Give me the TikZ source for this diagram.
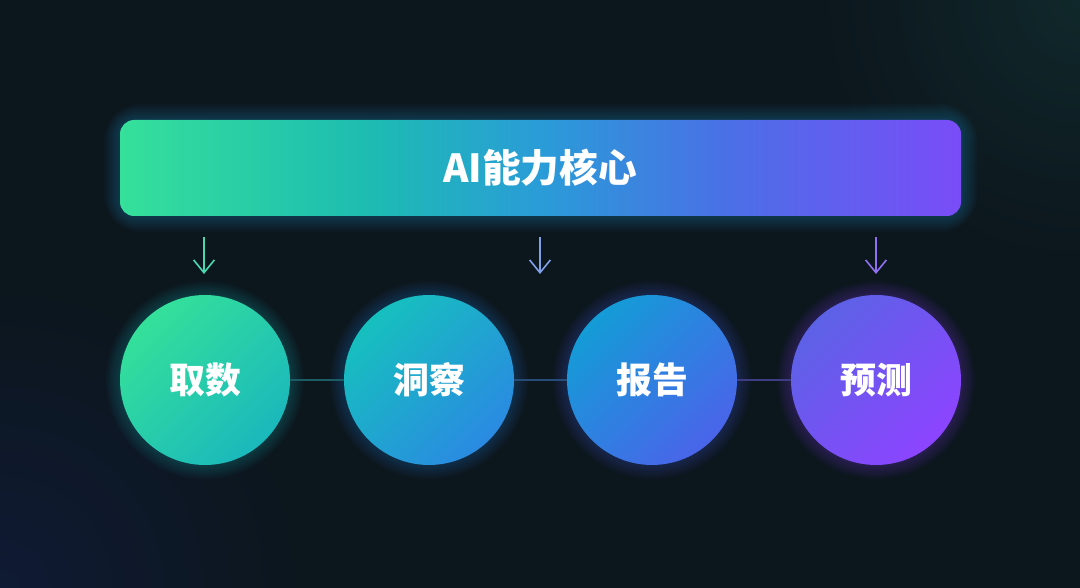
\documentclass[tikz,border=0pt]{standalone}
\usepackage{fontspec}
\newfontfamily\cjk{Noto Sans CJK SC}
\usetikzlibrary{arrows.meta,calc}
\definecolor{bg}{HTML}{0C161D}
\definecolor{bgtr}{HTML}{10282B}
\definecolor{bgbl}{HTML}{0F1A34}
\definecolor{gA}{HTML}{35E09A}
\definecolor{gB}{HTML}{1DBBB2}
\definecolor{gC}{HTML}{2A9CD8}
\definecolor{gD}{HTML}{4A70E6}
\definecolor{gE}{HTML}{7A4CF8}
\definecolor{aone}{HTML}{4AD8B0}
\definecolor{atwo}{HTML}{80A0E8}
\definecolor{athree}{HTML}{9070F0}
\definecolor{lone}{HTML}{1C5C64}
\definecolor{ltwo}{HTML}{284C7A}
\definecolor{lthree}{HTML}{3E3C84}
\definecolor{cAa}{HTML}{34E09A}\definecolor{cAb}{HTML}{1AB8BC}
\definecolor{cBa}{HTML}{16C0BE}\definecolor{cBb}{HTML}{2A8AE2}
\definecolor{cCa}{HTML}{149CD6}\definecolor{cCb}{HTML}{4A64EA}
\definecolor{cDa}{HTML}{5C62E6}\definecolor{cDb}{HTML}{8C44FF}
\pgfdeclarehorizontalshading{bannershade}{100bp}{
  color(0bp)=(gA); color(25bp)=(gA); color(40bp)=(gB); color(50bp)=(gC); color(61bp)=(gD); color(75bp)=(gE); color(100bp)=(gE)}
\tikzset{
  stage/.style={circle, minimum size=170*0.25mm, inner sep=0pt, text=white,
    font=\cjk\bfseries\fontsize{25.5}{30}\selectfont},
  glow/.style={fill=#1, fill opacity=0.035},
  feed/.style={-{Straight Barb[length=3.2mm,width=5.2mm]}, line width=0.4mm},
  link/.style={line width=0.3mm}
}
\begin{document}
\begin{tikzpicture}[x=0.25mm,y=0.25mm]
\useasboundingbox (0,0) rectangle (1080,-588);
% background
\fill[bg] (0,0) rectangle (1080,-588);
\begin{scope}
\clip (0,0) rectangle (1080,-588);
\shade[inner color=bgtr, outer color=bg] (1080,0) circle (260);
\shade[inner color=bgbl, outer color=bg] (0,-588) circle (300);
\end{scope}
% banner glow
\foreach \g in {2,4,6,8,10,12,14,16}{
  \fill[glow=gC, rounded corners=10+\g] (120-\g,-120+\g) rectangle (961+\g,-216-\g);
}
\shade[shading=bannershade, rounded corners=10] (120,-120) rectangle (961,-216);
\node[text=white, font=\cjk\bfseries\fontsize{27.5}{32}\selectfont] (core) at (540,-168) {AI能力核心};
% circle glows
\foreach \x/\c in {205/cAb,429/cBb,652/cCb,876/cDb}{
  \foreach \g in {2,4,6,8,10,12,14}{
    \fill[glow=\c] (\x,-380) circle (85+\g);
  }
}
% stages
\node[stage, top color=cAa, bottom color=cAb, shading angle=45] (c1) at (205,-380) {取数};
\node[stage, top color=cBa, bottom color=cBb, shading angle=45] (c2) at (429,-380) {洞察};
\node[stage, top color=cCa, bottom color=cCb, shading angle=45] (c3) at (652,-380) {报告};
\node[stage, top color=cDa, bottom color=cDb, shading angle=45] (c4) at (876,-380) {预测};
% links
\draw[link, lone] (c1.east) -- (c2.west);
\draw[link, ltwo] (c2.east) -- (c3.west);
\draw[link, lthree] (c3.east) -- (c4.west);
% feed arrows
\coordinate (s1) at (204,-237); \coordinate (e1) at (204,-274);
\coordinate (s2) at (540,-237); \coordinate (e2) at (540,-274);
\coordinate (s3) at (876,-237); \coordinate (e3) at (876,-274);
\draw[feed, aone] (s1) -- (e1);
\draw[feed, atwo] (s2) -- (e2);
\draw[feed, athree] (s3) -- (e3);
\end{tikzpicture}
\end{document}
